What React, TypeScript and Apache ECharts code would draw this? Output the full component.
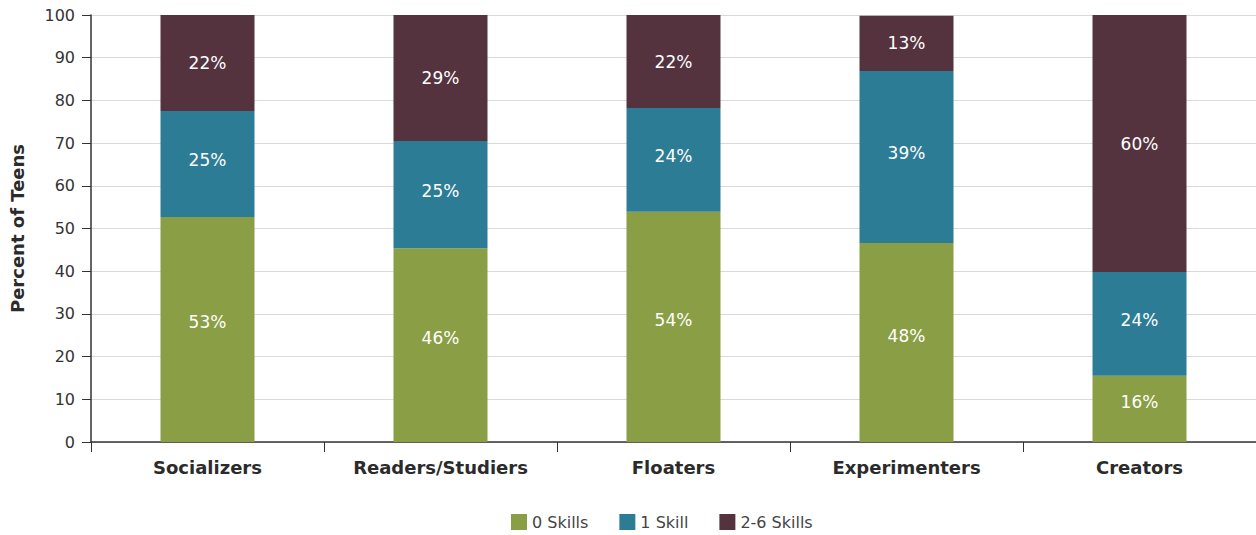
import React, { useEffect, useRef } from "react";
import * as echarts from "echarts";

const categories = ["Socializers", "Readers/Studiers", "Floaters", "Experimenters", "Creators"];
const seriesNames = ["0 Skills", "1 Skill", "2-6 Skills"];
const zeroSkills = [52.7, 45.4, 53.9, 46.6, 15.5];
const oneSkill = [24.8, 25.1, 24.3, 40.3, 24.3];
const twoSixSkills = [22.5, 29.7, 22.0, 12.9, 60.2];
const zeroLabels = ["53%", "46%", "54%", "48%", "16%"];
const oneLabels = ["25%", "25%", "24%", "39%", "24%"];
const twoSixLabels = ["22%", "29%", "22%", "13%", "60%"];
const colors = ["#8a9e45", "#2d7c95", "#54333f"];

const FONT = "'DejaVu Sans', 'Open Sans', sans-serif";

export default function App() {
  const ref = useRef<HTMLDivElement>(null);
  useEffect(() => {
    if (!ref.current) return;
    const chart = echarts.init(ref.current, null, { renderer: "svg" });
    const values = [zeroSkills, oneSkill, twoSixSkills];
    const labels = [zeroLabels, oneLabels, twoSixLabels];
    const offsets = [[0, -7], [0, -4], [0, 0]];
    chart.setOption({
      animation: false,
      textStyle: { fontFamily: FONT },
      grid: { left: 91, right: 0, top: 15, bottom: 93, containLabel: false },
      legend: {
        bottom: 0,
        left: 506,
        itemWidth: 16,
        itemHeight: 16,
        itemGap: 31,
        icon: "rect",
        textStyle: { fontSize: 16, color: "#444", fontFamily: FONT },
        data: seriesNames,
      },
      xAxis: {
        type: "category",
        data: categories,
        axisLine: { lineStyle: { color: "#333", width: 1.5 } },
        axisTick: { show: true, length: 10, lineStyle: { color: "#333" } },
        axisLabel: { fontSize: 18, fontWeight: "bold", color: "#2b2b2b", margin: 16, fontFamily: FONT },
      },
      yAxis: {
        type: "value",
        min: 0,
        max: 100,
        interval: 10,
        name: "Percent of Teens",
        nameLocation: "middle",
        nameGap: 65,
        nameTextStyle: { fontSize: 18, fontWeight: "bold", color: "#2b2b2b", fontFamily: FONT },
        axisLine: { show: true, lineStyle: { color: "#333", width: 1.5 } },
        axisTick: { show: true, length: 9, lineStyle: { color: "#333" } },
        axisLabel: { fontSize: 16, color: "#333", margin: 16, fontFamily: FONT },
        splitLine: { show: true, lineStyle: { color: "#d9d9d9", width: 1 } },
      },
      series: seriesNames.map((name, si) => ({
        name,
        type: "bar",
        stack: "total",
        barWidth: 94,
        itemStyle: { color: colors[si] },
        label: {
          show: true,
          position: "inside",
          offset: offsets[si],
          color: "#fff",
          fontSize: 17,
          fontFamily: FONT,
          formatter: (p: any) => labels[si][p.dataIndex],
        },
        data: values[si],
      })),
    });
    return () => chart.dispose();
  }, []);
  return (
    <div
      ref={ref}
      style={{ position: "fixed", left: 0, top: 0, width: 1256, height: 535, background: "#fff" }}
    />
  );
}
